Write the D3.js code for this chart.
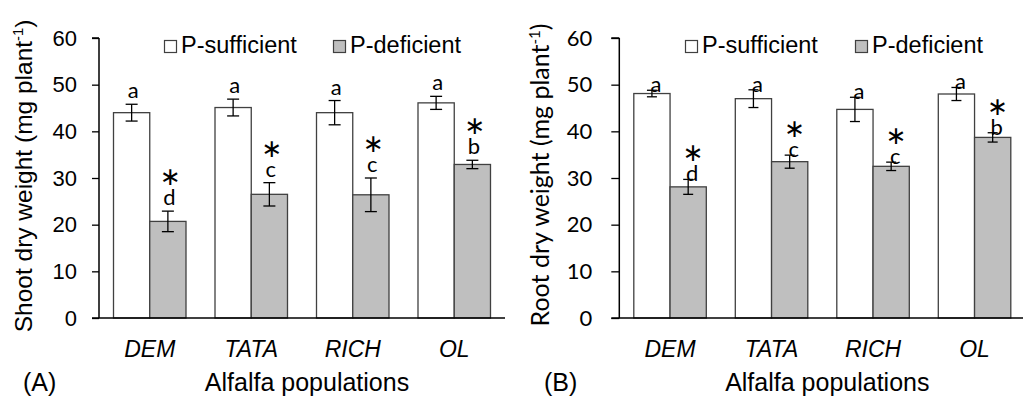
<!DOCTYPE html>
<html>
<head>
<meta charset="utf-8">
<script src="https://cdn.jsdelivr.net/npm/d3@7"></script>
<style>
  body { margin: 0; background: #fff; }
  svg { display: block; }
</style>
</head>
<body>
<svg id="chart" width="1023" height="402"></svg>
<script>
// data
var categories = ['DEM', 'TATA', 'RICH', 'OL'];
var seriesNames = ['P-sufficient', 'P-deficient'];
var yTicks = [0, 10, 20, 30, 40, 50, 60];

var shootSuff = [44.0, 45.1, 44.0, 46.1];
var shootSuffErr = [1.8, 1.8, 2.6, 1.4];
var shootDef = [20.7, 26.5, 26.4, 32.9];
var shootDefErr = [2.2, 2.5, 3.6, 0.9];
var shootSuffLetters = ['a', 'a', 'a', 'a'];
var shootDefLetters = ['d', 'c', 'c', 'b'];

var rootSuff = [48.1, 47.0, 44.7, 48.0];
var rootSuffErr = [0.7, 1.9, 2.6, 1.4];
var rootDef = [28.1, 33.5, 32.5, 38.7];
var rootDefErr = [1.6, 1.4, 0.9, 1.0];
var rootSuffLetters = ['a', 'a', 'a', 'a'];
var rootDefLetters = ['d', 'c', 'c', 'b'];

var ARIAL = '"Liberation Sans", Arial, sans-serif';
var CALIBRI = 'Lato, "Open Sans", sans-serif';
var FILLS = ['#ffffff', '#bfbfbf'];

var svg = d3.select('#chart');

function drawPanel(opt) {
  var g = svg.append('g');
  var x0 = opt.left, x1 = opt.left + 406;

  var x = d3.scaleBand().domain(categories).range([x0, x1])
    .paddingInner(0.2857).paddingOuter(0.1429);
  var xs = d3.scaleBand().domain(seriesNames).range([0, x.bandwidth()]);
  var y = d3.scaleLinear().domain([0, 60]).range([318, 38]);

  var flat = d3.merge(categories.map(function(c, i) {
    return [
      { cat: c, s: seriesNames[0], v: opt.suff[i], e: opt.suffErr[i], lab: opt.suffLetters[i], star: false },
      { cat: c, s: seriesNames[1], v: opt.def[i], e: opt.defErr[i], lab: opt.defLetters[i], star: true }
    ];
  }));

  // bars
  g.selectAll('rect.bar').data(flat).enter().append('rect')
    .attr('class', 'bar')
    .attr('x', function(d) { return x(d.cat) + xs(d.s); })
    .attr('y', function(d) { return y(d.v); })
    .attr('width', xs.bandwidth())
    .attr('height', function(d) { return y(0) - y(d.v); })
    .attr('fill', function(d) { return FILLS[seriesNames.indexOf(d.s)]; })
    .attr('stroke', '#404040')
    .attr('stroke-width', 1.3);

  // error bars
  var cx = function(d) { return x(d.cat) + xs(d.s) + xs.bandwidth() / 2; };
  var eb = g.selectAll('g.err').data(flat).enter().append('g').attr('class', 'err')
    .attr('stroke', '#000').attr('stroke-width', 1.3);
  eb.append('line')
    .attr('x1', cx).attr('x2', cx)
    .attr('y1', function(d) { return y(d.v + d.e); })
    .attr('y2', function(d) { return y(d.v - d.e); });
  [1, -1].forEach(function(sgn) {
    eb.append('line')
      .attr('x1', function(d) { return cx(d) - opt.cap / 2; })
      .attr('x2', function(d) { return cx(d) + opt.cap / 2; })
      .attr('y1', function(d) { return y(d.v + sgn * d.e); })
      .attr('y2', function(d) { return y(d.v + sgn * d.e); });
  });

  // letters + asterisks
  g.selectAll('text.lab').data(flat).enter().append('text')
    .attr('class', 'lab')
    .attr('x', function(d) { return cx(d) + opt.labDx; })
    .attr('y', function(d) { return y(d.v + d.e) + opt.labDy; })
    .attr('text-anchor', 'middle')
    .attr('font-family', CALIBRI).attr('font-size', 22)
    .text(function(d) { return d.lab; });
  g.selectAll('text.star').data(flat.filter(function(d) { return d.star; })).enter().append('text')
    .attr('class', 'star')
    .attr('x', function(d) { return cx(d) + opt.labDx + 1; })
    .attr('y', function(d) { return y(d.v + d.e) + opt.labDy - 20; })
    .attr('text-anchor', 'middle')
    .attr('font-family', '"DejaVu Sans", sans-serif').attr('font-size', 25)
    .attr('fill', '#000')
    .text('\u2217');

  // y axis
  var ya = g.append('g').attr('transform', 'translate(' + x0 + ',0)')
    .call(d3.axisLeft(y).tickValues(yTicks).tickSize(opt.tick).tickPadding(opt.tickPad).tickFormat(d3.format('d')));
  ya.select('.domain').attr('stroke', '#000').attr('stroke-width', 1.5)
    .attr('d', 'M0,' + y(60) + 'H' + (-opt.tick) + 'M0,' + y(60) + 'V' + y(0));
  ya.selectAll('.tick line').attr('stroke', '#000').attr('stroke-width', 1.3);
  ya.selectAll('.tick text').attr('font-family', opt.tickFont).attr('font-size', 22).attr('fill', '#000');

  // x axis baseline
  g.append('line')
    .attr('x1', x0 - opt.tick).attr('x2', x1)
    .attr('y1', y(0)).attr('y2', y(0))
    .attr('stroke', '#000').attr('stroke-width', 1.5);

  // category labels
  g.selectAll('text.cat').data(categories).enter().append('text')
    .attr('class', 'cat')
    .attr('x', function(c) { return x(c) + x.bandwidth() / 2; })
    .attr('y', 357)
    .attr('text-anchor', 'middle')
    .attr('font-family', ARIAL).attr('font-style', 'italic').attr('font-size', 23)
    .text(function(c) { return c; });

  g.append('text')
    .attr('x', (x0 + x1) / 2 + 5).attr('y', 391)
    .attr('text-anchor', 'middle')
    .attr('font-family', ARIAL).attr('font-size', 25)
    .text('Alfalfa populations');

  g.append('text')
    .attr('x', opt.tagX).attr('y', 391)
    .attr('font-family', ARIAL).attr('font-size', 25)
    .text(opt.tag);

  // y title
  var t = g.append('text')
    .attr('transform', 'translate(' + opt.titleX + ',' + opt.titleY + ') rotate(-90)')
    .attr('text-anchor', 'middle')
    .attr('font-family', opt.titleFont).attr('font-size', opt.titleSize);
  t.append('tspan').text(opt.title + ' (mg plant');
  t.append('tspan').attr('font-size', opt.titleSize * 0.6).attr('dy', -opt.titleSize * 0.38).text('-1');
  t.append('tspan').attr('dy', opt.titleSize * 0.38).text(')');

  // legend
  var lg = g.selectAll('g.leg').data(seriesNames).enter().append('g').attr('class', 'leg')
    .attr('transform', function(d, i) { return 'translate(' + opt.legX[i] + ',40)'; });
  lg.append('rect').attr('x', 0.5).attr('y', 0.5).attr('width', 12).attr('height', 12)
    .attr('fill', function(d, i) { return FILLS[i]; })
    .attr('stroke', '#404040').attr('stroke-width', 1.2);
  lg.append('text').attr('x', 17).attr('y', 13)
    .attr('font-family', ARIAL).attr('font-size', 23.5)
    .text(function(d) { return d; });
}

drawPanel({
  left: 99, tick: 7, tickPad: 15, tickFont: ARIAL, cap: 12,
  suff: shootSuff, suffErr: shootSuffErr, def: shootDef, defErr: shootDefErr,
  suffLetters: shootSuffLetters, defLetters: shootDefLetters,
  labDx: 1.5, labDy: -6,
  title: 'Shoot dry weight', titleFont: ARIAL, titleSize: 24.5, titleX: 32, titleY: 176,
  tag: '(A)', tagX: 23, legX: [164, 333]
});

drawPanel({
  left: 619.3, tick: 8, tickPad: 19, tickFont: CALIBRI, cap: 10,
  suff: rootSuff, suffErr: rootSuffErr, def: rootDef, defErr: rootDefErr,
  suffLetters: rootSuffLetters, defLetters: rootDefLetters,
  labDx: 4, labDy: 2,
  title: 'Root dry weight', titleFont: CALIBRI, titleSize: 25, titleX: 549, titleY: 175,
  tag: '(B)', tagX: 544, legX: [685, 855]
});
</script>
</body>
</html>
